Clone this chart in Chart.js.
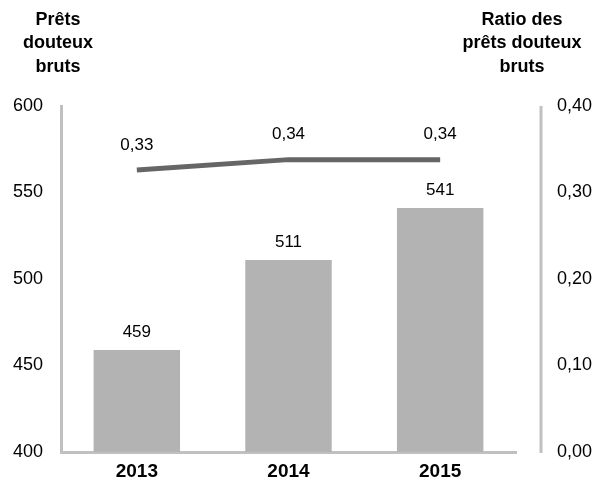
<!DOCTYPE html>
<html>
<head>
<meta charset="utf-8">
<script src="https://cdn.jsdelivr.net/npm/chart.js@4/dist/chart.umd.min.js"></script>
<style>
  html, body { margin: 0; padding: 0; background: #fff; }
  #wrap { width: 593px; height: 484px; }
</style>
</head>
<body>
<div id="wrap"><canvas id="chart" width="593" height="484"></canvas></div>
<script>
const years = ['2013', '2014', '2015'];
const pretsDouteux = [459, 511, 541];
const ratioPrets = [0.326, 0.338, 0.338];

const leftTitle = ['Prêts', 'douteux', 'bruts'];
const rightTitle = ['Ratio des', 'prêts douteux', 'bruts'];

const FONT = "'Liberation Sans', Arial, sans-serif";
const fmtRatio = v => v.toFixed(2).replace('.', ',');

// titles, right axis line and value labels
const decor = {
  id: 'decor',
  afterDatasetsDraw(chart) {
    const ctx = chart.ctx;
    const area = chart.chartArea;
    ctx.save();

    // right axis line sits a bit away from the plot
    ctx.strokeStyle = '#c0c0c0';
    ctx.lineWidth = 3;
    ctx.beginPath();
    ctx.moveTo(area.right + 25, area.top);
    ctx.lineTo(area.right + 25, area.bottom + 1);
    ctx.stroke();

    ctx.fillStyle = '#000';
    ctx.textAlign = 'center';
    ctx.textBaseline = 'middle';
    ctx.font = 'bold 18px ' + FONT;
    leftTitle.forEach((t, i) => ctx.fillText(t, 58, 20 + i * 23.5));
    rightTitle.forEach((t, i) => ctx.fillText(t, 522, 20 + i * 23.5));

    ctx.font = '17px ' + FONT;
    chart.getDatasetMeta(1).data.forEach((bar, i) => {
      ctx.fillText(String(pretsDouteux[i]), bar.x, bar.y - 18);
    });
    chart.getDatasetMeta(0).data.forEach((pt, i) => {
      ctx.fillText(fmtRatio(ratioPrets[i]), pt.x, pt.y - 25);
    });
    ctx.restore();
  }
};

// fixed axis sizes, and no extra top/bottom room from the tick padding
const fixWidth = w => s => { s.width = w; s.paddingTop = 0; s.paddingBottom = 0; };

const chart = new Chart(document.getElementById('chart'), {
  data: {
    labels: years,
    datasets: [
      {
        type: 'line',
        data: ratioPrets,
        yAxisID: 'yRight',
        borderColor: '#666666',
        borderWidth: 5,
        pointRadius: 0,
        tension: 0,
        order: 0
      },
      {
        type: 'bar',
        data: pretsDouteux,
        yAxisID: 'yLeft',
        backgroundColor: '#b3b3b3',
        categoryPercentage: 1,
        barPercentage: 0.57,
        order: 1
      }
    ]
  },
  options: {
    responsive: false,
    animation: false,
    layout: { padding: { top: 106, left: 12, right: 1, bottom: 0 } },
    plugins: { legend: { display: false }, tooltip: { enabled: false } },
    scales: {
      x: {
        grid: { display: false, drawTicks: false },
        border: { color: '#c0c0c0', width: 3 },
        ticks: { color: '#000', padding: 8, font: { family: FONT, size: 19, weight: 'bold' } },
        afterFit: s => { s.height = 32; }
      },
      yLeft: {
        position: 'left',
        min: 400,
        max: 600,
        grid: { display: false, drawTicks: false },
        border: { color: '#c0c0c0', width: 3 },
        ticks: { stepSize: 50, color: '#000', padding: 18, font: { family: FONT, size: 18 } },
        afterFit: fixWidth(49)
      },
      yRight: {
        position: 'right',
        min: 0,
        max: 0.4,
        grid: { display: false, drawTicks: false },
        border: { display: false },
        ticks: {
          stepSize: 0.1,
          color: '#000',
          padding: 41,
          font: { family: FONT, size: 18 },
          callback: v => fmtRatio(v)
        },
        afterFit: fixWidth(76)
      }
    }
  },
  plugins: [decor]
});
</script>
</body>
</html>
